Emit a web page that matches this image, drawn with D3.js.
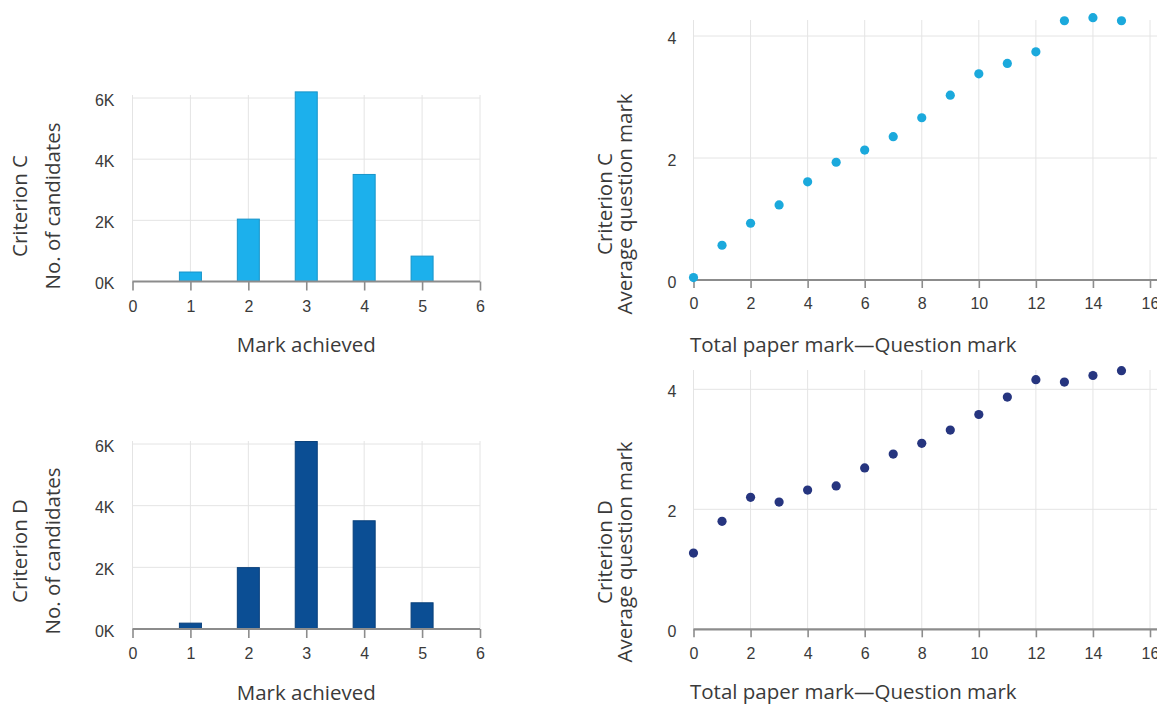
<!DOCTYPE html>
<html>
<head>
<meta charset="utf-8">
<script src="https://cdn.jsdelivr.net/npm/d3@7"></script>
<style>
  html, body { margin: 0; padding: 0; background: #fff; }
  svg { display: block; font-family: "Open Sans", "Noto Sans", sans-serif; }
</style>
</head>
<body>
<svg id="chart" width="1157" height="707"></svg>
<script>
// ---------- data ----------
const marks = [1, 2, 3, 4, 5];
const candidatesC = [310, 2040, 6200, 3500, 830];
const candidatesD = [190, 1990, 6080, 3510, 850];

const paperMarks = [0, 1, 2, 3, 4, 5, 6, 7, 8, 9, 10, 11, 12, 13, 14, 15];
const avgQuestionC = [0.04, 0.57, 0.93, 1.23, 1.61, 1.93, 2.13, 2.35, 2.66, 3.03, 3.38, 3.55, 3.74, 4.25, 4.30, 4.25];
const avgQuestionD = [1.27, 1.80, 2.20, 2.12, 2.32, 2.39, 2.69, 2.92, 3.10, 3.32, 3.58, 3.87, 4.16, 4.12, 4.23, 4.31];

const barXTicks = [0, 1, 2, 3, 4, 5, 6];
const barYTicks = [0, 2000, 4000, 6000];
const scatXTicks = [0, 2, 4, 6, 8, 10, 12, 14, 16];
const scatYTicks = [0, 2, 4];

const barXTitle = "Mark achieved";
const barYTitle = "No. of candidates";
const scatXTitle = "Total paper mark\u2014Question mark";
const scatYTitle = "Average question mark";
const criteria = ["Criterion C", "Criterion D"];

// ---------- styles ----------
const gridColor = "#e4e4e4";
const axisColor = "#8c8c8c";
const textColor = "#3a3a3a";
const barFill = ["#1cb0ec", "#0b4e94"];
const barStroke = ["#1794c9", "#083f7a"];
const dotFill = ["#1ba9dc", "#26357f"];
const tickFont = 16;
const titleFont = 20.5;

const svg = d3.select("#chart");
const kfmt = d => (d / 1000) + "K";

function drawBarPanel(cfg) {
  const x = d3.scaleLinear().domain([0, 6]).range([cfg.x0, cfg.x1]);
  const y = d3.scaleLinear().domain([0, 6000]).range([cfg.y0, cfg.y1]);
  const g = svg.append("g");

  g.append("g").selectAll("line").data(barYTicks.filter(d => d > 0)).join("line")
    .attr("x1", x(0)).attr("x2", x(6)).attr("y1", d => y(d)).attr("y2", d => y(d))
    .attr("stroke", gridColor).attr("stroke-width", 1);
  g.append("g").selectAll("line").data(barXTicks).join("line")
    .attr("x1", d => x(d)).attr("x2", d => x(d)).attr("y1", cfg.gridTop).attr("y2", y(0))
    .attr("stroke", gridColor).attr("stroke-width", 1);

  const bw = (x(1) - x(0)) * 0.38;
  g.append("g").selectAll("rect").data(marks).join("rect")
    .attr("x", (d) => x(d) - bw / 2)
    .attr("width", bw)
    .attr("y", (d, i) => y(cfg.values[i]))
    .attr("height", (d, i) => y(0) - y(cfg.values[i]))
    .attr("fill", cfg.fill).attr("stroke", cfg.stroke).attr("stroke-width", 1);

  const xa = g.append("g").attr("transform", `translate(0,${y(0)})`)
    .call(d3.axisBottom(x).tickValues(barXTicks).tickSize(9).tickPadding(10).tickFormat(d3.format("d")));
  xa.select(".domain").attr("stroke", axisColor).attr("stroke-width", 2.2).attr("d", `M${x(0)},0H${x(6)}`);
  xa.selectAll(".tick line").attr("stroke", axisColor).attr("stroke-width", 1.6);
  xa.selectAll("text").attr("fill", textColor).attr("font-size", tickFont);

  const ya = g.append("g").attr("transform", `translate(${x(0)},0)`)
    .call(d3.axisLeft(y).tickValues(barYTicks).tickSize(0).tickPadding(18).tickFormat(kfmt));
  ya.select(".domain").remove();
  ya.selectAll("text").attr("fill", textColor).attr("font-size", tickFont).attr("dy", "0.45em");

  g.append("text").attr("x", (x(0) + x(6)) / 2).attr("y", cfg.xTitleY)
    .attr("text-anchor", "middle").attr("fill", textColor).attr("font-size", titleFont).text(barXTitle);
  g.append("text").attr("transform", `translate(${cfg.t1x},${cfg.tcy}) rotate(-90)`)
    .attr("text-anchor", "middle").attr("fill", textColor).attr("font-size", titleFont).text(cfg.criterion);
  g.append("text").attr("transform", `translate(${cfg.t2x},${cfg.tcy}) rotate(-90)`)
    .attr("text-anchor", "middle").attr("fill", textColor).attr("font-size", titleFont).text(barYTitle);
}

function drawScatterPanel(cfg) {
  const x = d3.scaleLinear().domain([0, 16]).range([cfg.x0, cfg.x1]);
  const y = d3.scaleLinear().domain([0, 4]).range([cfg.y0, cfg.y1]);
  const g = svg.append("g");

  g.append("g").selectAll("line").data(scatYTicks.filter(d => d > 0)).join("line")
    .attr("x1", x(0)).attr("x2", 1157).attr("y1", d => y(d)).attr("y2", d => y(d))
    .attr("stroke", gridColor).attr("stroke-width", 1);
  g.append("g").selectAll("line").data(scatXTicks).join("line")
    .attr("x1", d => x(d)).attr("x2", d => x(d)).attr("y1", cfg.gridTop).attr("y2", y(0))
    .attr("stroke", gridColor).attr("stroke-width", 1);

  const xa = g.append("g").attr("transform", `translate(0,${y(0)})`)
    .call(d3.axisBottom(x).tickValues(scatXTicks).tickSize(8).tickPadding(10).tickFormat(d3.format("d")));
  xa.select(".domain").attr("stroke", axisColor).attr("stroke-width", 2.2).attr("d", `M${x(0)},0H1157`);
  xa.selectAll(".tick line").attr("stroke", axisColor).attr("stroke-width", 1.6);
  xa.selectAll("text").attr("fill", textColor).attr("font-size", tickFont);

  const ya = g.append("g").attr("transform", `translate(${x(0)},0)`)
    .call(d3.axisLeft(y).tickValues(scatYTicks).tickSize(0).tickPadding(17).tickFormat(d3.format("d")));
  ya.select(".domain").remove();
  ya.selectAll("text").attr("fill", textColor).attr("font-size", tickFont).attr("dy", "0.45em");

  g.append("g").selectAll("circle").data(paperMarks).join("circle")
    .attr("cx", d => x(d)).attr("cy", (d, i) => y(cfg.values[i]))
    .attr("r", 4.6).attr("fill", cfg.fill);

  g.append("text").attr("x", cfg.xTitleX).attr("y", cfg.xTitleY)
    .attr("fill", textColor).attr("font-size", titleFont).text(scatXTitle);
  g.append("text").attr("transform", `translate(${cfg.t1x},${cfg.tcy}) rotate(-90)`)
    .attr("text-anchor", "middle").attr("fill", textColor).attr("font-size", titleFont).text(cfg.criterion);
  g.append("text").attr("transform", `translate(${cfg.t2x},${cfg.tcy}) rotate(-90)`)
    .attr("text-anchor", "middle").attr("fill", textColor).attr("font-size", titleFont).text(scatYTitle);
}

drawBarPanel({ x0: 132.5, x1: 480, y0: 281.5, y1: 98, gridTop: 95, values: candidatesC,
  fill: barFill[0], stroke: barStroke[0], criterion: criteria[0],
  xTitleY: 352, t1x: 27, t2x: 60, tcy: 206 });
drawBarPanel({ x0: 132.5, x1: 480, y0: 629, y1: 444, gridTop: 441, values: candidatesD,
  fill: barFill[1], stroke: barStroke[1], criterion: criteria[1],
  xTitleY: 700, t1x: 27, t2x: 60, tcy: 551 });
drawScatterPanel({ x0: 693.5, x1: 1150, y0: 280, y1: 36, gridTop: 20, values: avgQuestionC,
  fill: dotFill[0], criterion: criteria[0], xTitleX: 690, xTitleY: 352,
  t1x: 612, t2x: 632, tcy: 204 });
drawScatterPanel({ x0: 693.5, x1: 1150, y0: 629.3, y1: 389.3, gridTop: 370, values: avgQuestionD,
  fill: dotFill[1], criterion: criteria[1], xTitleX: 690, xTitleY: 699,
  t1x: 612, t2x: 632, tcy: 552 });
</script>
</body>
</html>
